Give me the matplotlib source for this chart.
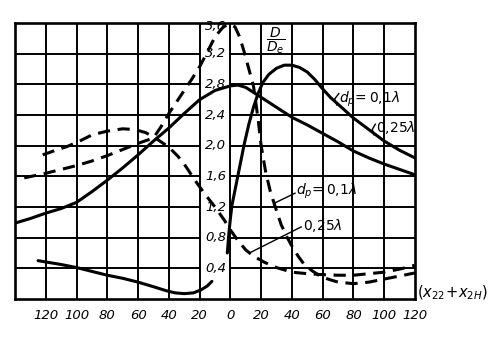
import matplotlib
matplotlib.use("Agg")
import matplotlib.pyplot as plt

plt.rcParams['font.family'] = ['DejaVu Sans']
plt.rcParams['mathtext.fontset'] = 'dejavusans'
plt.rcParams['mathtext.default'] = 'it'

# Abscissa: (x22 + x2H); left half is negative, labelled by magnitude
x_ticks = [-120, -100, -80, -60, -40, -20, 0, 20, 40, 60, 80, 100, 120]
x_tick_labels = ['120', '100', '80', '60', '40', '20', '0', '20', '40', '60', '80', '100', '120']
y_ticks = [0.4, 0.8, 1.2, 1.6, 2.0, 2.4, 2.8, 3.2, 3.6]
y_tick_labels = ['0,4', '0,8', '1,2', '1,6', '2,0', '2,4', '2,8', '3,2', '3,6']

# D/De, d_p = 0.25 lambda (solid)
x_d025 = [-140, -130, -120, -110, -100, -90, -80, -70, -60, -50, -40, -30, -20, -10,
          0, 5, 10, 20, 30, 40, 50, 60, 70, 80, 90, 100, 110, 120]
y_d025 = [0.99, 1.05, 1.12, 1.18, 1.26, 1.40, 1.55, 1.71, 1.88, 2.06, 2.23, 2.42, 2.60, 2.72,
          2.78, 2.79, 2.76, 2.63, 2.50, 2.37, 2.27, 2.16, 2.05, 1.93, 1.84, 1.76, 1.69, 1.62]

# D/De, d_p = 0.1 lambda (solid), positive branch
x_d01 = [-2, -1, 0, 1, 3, 6, 9, 12, 15, 18, 21, 25, 30, 35, 40, 45, 50, 55, 60, 65,
         70, 80, 90, 100, 110, 120]
y_d01 = [0.60, 0.85, 1.05, 1.22, 1.42, 1.72, 2.02, 2.28, 2.50, 2.68, 2.82, 2.93, 3.01, 3.05,
         3.05, 3.02, 2.96, 2.86, 2.74, 2.63, 2.54, 2.36, 2.21, 2.06, 1.94, 1.84]

# D/De, d_p = 0.1 lambda (solid), negative branch
x_d01_neg = [-125, -110, -100, -90, -80, -70, -60, -50, -42, -36, -30, -24, -19, -15, -12]
y_d01_neg = [0.50, 0.45, 0.41, 0.36, 0.31, 0.27, 0.22, 0.16, 0.11, 0.08, 0.07, 0.08, 0.12,
             0.17, 0.23]

# second quantity, d_p = 0.1 lambda (dashed)
x_i01 = [-134, -120, -110, -100, -90, -80, -70, -60, -50, -45, -40, -35, -30, -25, -20,
         -15, -10, -5, -2, 0, 3, 6, 9, 12, 15, 18, 20, 23, 26, 30, 33, 37, 40, 44, 48,
         53, 59, 65, 70, 80, 90, 100, 110, 120]
y_i01 = [1.58, 1.64, 1.69, 1.74, 1.80, 1.87, 1.95, 2.03, 2.10, 2.25, 2.42, 2.57, 2.72, 2.87,
         3.03, 3.22, 3.42, 3.54, 3.58, 3.58, 3.55, 3.42, 3.22, 3.00, 2.78, 2.35, 2.00, 1.65,
         1.40, 1.15, 0.97, 0.80, 0.69, 0.56, 0.45, 0.37, 0.29, 0.25, 0.22, 0.20, 0.22, 0.26,
         0.30, 0.34]

# second quantity, d_p = 0.25 lambda (dashed)
x_i025 = [-122, -115, -106, -98, -90, -80, -70, -62, -55, -48, -40, -34, -29, -22, -17,
          -10, -4, 0, 5, 10, 15, 22, 30, 40, 50, 58, 70, 80, 90, 100, 110, 120]
y_i025 = [1.88, 1.93, 1.99, 2.06, 2.14, 2.19, 2.22, 2.21, 2.17, 2.09, 1.98, 1.86, 1.73,
          1.52, 1.38, 1.20, 1.03, 0.90, 0.76, 0.64, 0.56, 0.48, 0.41, 0.35, 0.33, 0.32,
          0.31, 0.31, 0.33, 0.35, 0.39, 0.44]

fig = plt.figure(figsize=(4.97, 3.39), dpi=100)
fig.patch.set_facecolor('white')
ax = fig.add_axes([15 / 497, 1 - 299 / 339, 400 / 497, 276 / 339])
ax.set_xlim(-140, 120)
ax.set_ylim(0, 3.6)
ax.set_xticks([])
ax.set_yticks([])
for sp in ax.spines.values():
    sp.set_linewidth(1.9)
    sp.set_color('black')

ink = 'black'
grid_lw = 1.4

# grid: vertical lines full height, horizontal lines leave the label strip free
ax.vlines(x_ticks[:-1], 0, 3.6, color=ink, lw=grid_lw)
ax.hlines(y_ticks[:-1], -140, -20, color=ink, lw=grid_lw)
ax.hlines(y_ticks[:-1], 0, 120, color=ink, lw=grid_lw)

curve_lw = 2.2
dash = (0, (4, 2.5))
round_kw = dict(solid_capstyle='round', solid_joinstyle='round')
ax.plot(x_d025, y_d025, color=ink, lw=curve_lw, **round_kw)
ax.plot(x_d01, y_d01, color=ink, lw=curve_lw, **round_kw)
ax.plot(x_d01_neg, y_d01_neg, color=ink, lw=curve_lw, **round_kw)
ax.plot(x_i01, y_i01, color=ink, lw=curve_lw, linestyle=dash)
ax.plot(x_i025, y_i025, color=ink, lw=curve_lw, linestyle=dash)

tick_font = dict(fontsize=9.5, style='italic', color=ink)
for xv, lab in zip(x_ticks, x_tick_labels):
    ax.text(xv, -0.21, lab, ha='center', va='center', clip_on=False, **tick_font)
for yv, lab in zip(y_ticks, y_tick_labels):
    yy = yv - 0.04 if yv >= 3.6 else yv
    ax.text(-9.5, yy, lab, ha='center', va='center', clip_on=False, **tick_font)

# curve annotations
ax.text(29.3, 3.37, r'$\dfrac{D}{D_e}$', ha='center', va='center', fontsize=10, color=ink)
ax.text(70.5, 2.60, r'$d_p\!=0{,}1\lambda$', ha='left', va='center', fontsize=10, color=ink)
ax.plot([70.5, 67.8, 69.2], [2.68, 2.61, 2.53], color=ink, lw=1.0)
ax.text(94.5, 2.24, r'$0{,}25\lambda$', ha='left', va='center', fontsize=10, color=ink)
ax.plot([94.2, 92.2, 93.4], [2.28, 2.21, 2.14], color=ink, lw=1.0)

ax.text(42.5, 1.41, r'$d_p\!=0{,}1\lambda$', ha='left', va='center', fontsize=10, color=ink)
ax.plot([42.0, 28.6], [1.38, 1.25], color=ink, lw=1.0)
ax.text(47.5, 0.96, r'$0{,}25\lambda$', ha='left', va='center', fontsize=10, color=ink)
ax.plot([46.0, 12.4], [0.94, 0.60], color=ink, lw=1.0)

ax.text(121.5, 0.08, r'$(x_{22}\!+\!x_{2H})$', ha='left', va='center', fontsize=10.5,
        color=ink, clip_on=False)

fig.savefig('out.png', dpi=100, facecolor='white')
